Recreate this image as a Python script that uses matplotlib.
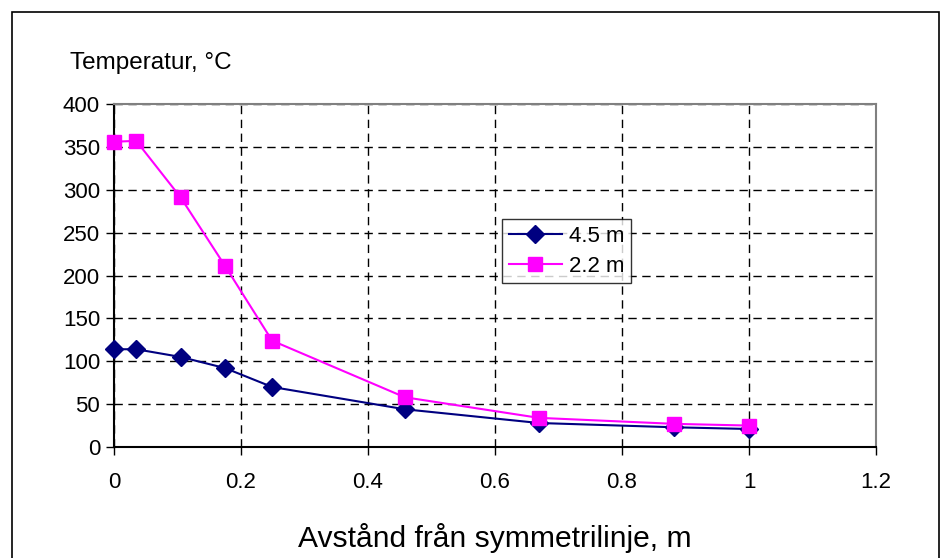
import matplotlib.pyplot as plt
from matplotlib.patches import Rectangle

plt.rcParams['font.family'] = ['Liberation Sans', 'DejaVu Sans']

# Avstånd från symmetrilinje (m)
x_45 = [0, 0.035, 0.105, 0.175, 0.249, 0.458, 0.669, 0.882, 1.0]
t_45 = [114, 114, 105, 92, 70, 44, 28, 23, 21]

x_22 = [0, 0.035, 0.105, 0.175, 0.249, 0.458, 0.669, 0.882, 1.0]
t_22 = [356, 357, 291, 211, 124, 58, 34, 27, 25]

x_ticks = [0, 0.2, 0.4, 0.6, 0.8, 1, 1.2]
x_labels = ["0", "0.2", "0.4", "0.6", "0.8", "1", "1.2"]
y_ticks = list(range(0, 401, 50))

fig = plt.figure(figsize=(9.47, 5.58), dpi=100)
ax = fig.add_axes([114 / 947, 1 - 447 / 558, (876 - 114) / 947, (447 - 104) / 558])

ax.plot(x_45, t_45, color="#000080", marker="D", markersize=9, linewidth=1.5,
        label="4.5 m", clip_on=False, zorder=3)
ax.plot(x_22, t_22, color="#FF00FF", marker="s", markersize=10, linewidth=1.5,
        label="2.2 m", clip_on=False, zorder=4)

ax.set_xlim(0, 1.2)
ax.set_ylim(0, 400)
ax.set_xticks(x_ticks)
ax.set_xticklabels(x_labels)
ax.set_yticks(y_ticks)
ax.tick_params(axis="both", direction="out", length=6, width=1, labelsize=16, color="black")
ax.tick_params(axis="x", pad=12)
ax.tick_params(axis="y", pad=4)
ax.grid(True, color="black", linestyle=(0, (6, 4)), linewidth=1)
ax.set_axisbelow(True)

for side in ["top", "right"]:
    ax.spines[side].set_color("#808080")
    ax.spines[side].set_linewidth(1.5)
for side in ["left", "bottom"]:
    ax.spines[side].set_color("black")
    ax.spines[side].set_linewidth(1.5)

leg = ax.legend(loc="upper left", bbox_to_anchor=((502 - 114) / 762, 1 - (219 - 104) / 343),
                fontsize=16, frameon=True, fancybox=False, edgecolor="black",
                handlelength=2.4, borderpad=0.3, labelspacing=0.4, handletextpad=0.3,
                borderaxespad=0)
leg.get_frame().set_linewidth(1)

fig.text(70 / 947, 1 - 63 / 558, "Temperatur, °C", fontsize=17.5, va="center", ha="left")
fig.text(495 / 947, 1 - 538 / 558, "Avstånd från symmetrilinje, m", fontsize=21.6, va="center", ha="center")

fig.patches.append(Rectangle((12 / 947, -0.05), (939 - 12) / 947, 1.05 - 12 / 558,
                             transform=fig.transFigure, fill=False, edgecolor="black", linewidth=1.2))

fig.savefig("out.png", dpi=100)
